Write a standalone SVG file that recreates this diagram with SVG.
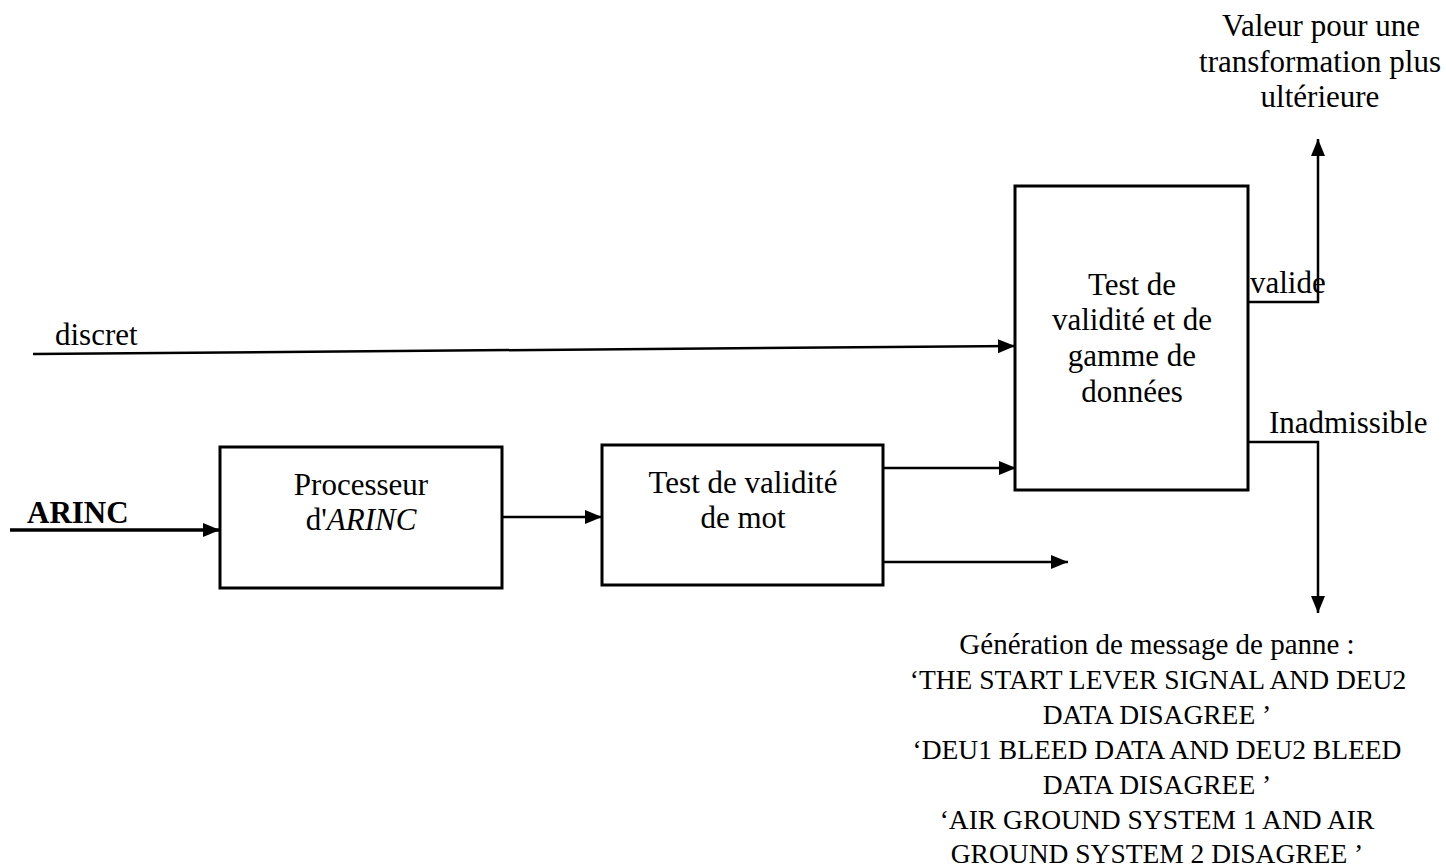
<svg xmlns="http://www.w3.org/2000/svg" width="1446" height="868" viewBox="0 0 1446 868">
<style>
.box{fill:#fff;stroke:#000;stroke-width:3}
.ln{fill:none;stroke:#000;stroke-width:2.5}
.t{font-family:"Liberation Serif","Times New Roman",serif;font-size:31px;fill:#000}
.m{font-size:29px}
.k{font-size:27.5px}
.c{text-anchor:middle}
</style>
<defs>
<marker id="ah" markerUnits="userSpaceOnUse" markerWidth="18" markerHeight="16" refX="17" refY="8" orient="auto">
<path d="M0,1 L17,8 L0,15 Z" fill="#000"/>
</marker>
</defs>
<rect width="1446" height="868" fill="#fff"/>
<g id="connectors">
<path class="ln" d="M33,354 L1015,346" marker-end="url(#ah)"/>
<path class="ln" d="M10,530 L220,530" style="stroke-width:3.5" marker-end="url(#ah)"/>
<path class="ln" d="M502,517 L602,517" marker-end="url(#ah)"/>
<path class="ln" d="M883,468 L1016,468" marker-end="url(#ah)"/>
<path class="ln" d="M883,562 L1068,562" marker-end="url(#ah)"/>
<path class="ln" d="M1248,302 L1318,302 L1318,139" marker-end="url(#ah)"/>
<path class="ln" d="M1248,442 L1318,442 L1318,613" marker-end="url(#ah)"/>
</g>
<g id="label-discret"><text class="t" x="55" y="345">discret</text></g>
<g id="label-arinc"><text class="t" x="27" y="523" style="font-weight:bold">ARINC</text></g>
<g id="node-processeur">
<rect class="box" x="220" y="447" width="282" height="141"/>
<text class="t c" x="361" y="495">Processeur</text>
<text class="t c" x="361" y="530">d'<tspan font-style="italic">ARINC</tspan></text>
</g>
<g id="node-test-mot">
<rect class="box" x="602" y="445" width="281" height="140"/>
<text class="t c" x="743" y="493">Test de validité</text>
<text class="t c" x="743" y="528">de mot</text>
</g>
<g id="node-test-gamme">
<rect class="box" x="1015" y="186" width="233" height="304"/>
<text class="t c" x="1132" y="295">Test de</text>
<text class="t c" x="1132" y="330">validité et de</text>
<text class="t c" x="1132" y="366">gamme de</text>
<text class="t c" x="1132" y="402">données</text>
</g>
<g id="label-valide"><text class="t" x="1250" y="293">valide</text></g>
<g id="label-inadmissible"><text class="t" x="1269" y="433">Inadmissible</text></g>
<g id="label-valeur">
<text class="t c" x="1321" y="36">Valeur pour une</text>
<text class="t c" x="1320" y="72">transformation plus</text>
<text class="t c" x="1320" y="107">ultérieure</text>
</g>
<g id="label-message">
<text class="t m c" x="1157" y="654">Génération de message de panne :</text>
<text class="t k c" x="1158" y="689">‘THE START LEVER SIGNAL AND DEU2</text>
<text class="t k c" x="1157" y="724">DATA DISAGREE ’</text>
<text class="t k c" x="1157" y="759">‘DEU1 BLEED DATA AND DEU2 BLEED</text>
<text class="t k c" x="1157" y="794">DATA DISAGREE ’</text>
<text class="t k c" x="1157" y="829">‘AIR GROUND SYSTEM 1 AND AIR</text>
<text class="t k c" x="1157" y="863">GROUND SYSTEM 2 DISAGREE ’</text>
</g>
</svg>
